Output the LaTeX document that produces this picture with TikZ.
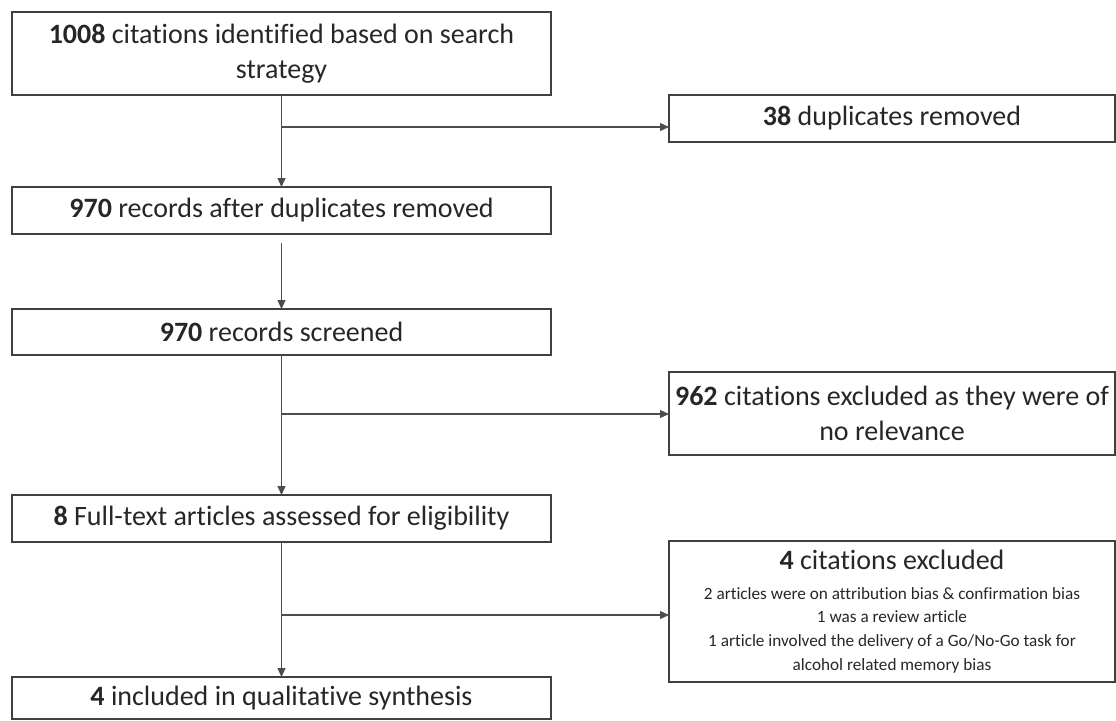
\documentclass[tikz,border=0pt]{standalone}
\usepackage{fontspec}
\setmainfont{Carlito}[Ligatures=NoCommon]
\usepackage{tikz}
\usetikzlibrary{arrows.meta, positioning}
\usepackage{xcolor}

\newcommand{\mainsize}{\fontsize{14}{17.5}\selectfont}
\newcommand{\notesize}{\fontsize{8.6}{11.8}\selectfont}

\begin{document}
\begin{tikzpicture}[x=0.5pt, y=-0.5pt, >={Triangle[length=4.5pt, width=4pt]}]
	\tikzstyle{stagebox} = [draw=black!75, line width=0.75pt, rectangle, inner sep=0pt, outer sep=0pt, text=black!85, font=\mainsize, align=center, minimum width=269.5pt]
	\tikzstyle{dropbox} = [stagebox, minimum width=223pt]
	\tikzstyle{link} = [draw=black!70, line width=0.6pt]
	
	\useasboundingbox (0,0) rectangle (1116,720);
	
	\node[stagebox, minimum height=41.5pt]	at (281.5, 53.5)	(s0)	{\textbf{1008} citations identified based on search\\strategy};
	\node[dropbox, minimum height=23.5pt]	at (892, 118.5)		(s1)	{\textbf{38} duplicates removed};
	\node[stagebox, minimum height=23.5pt]	at (281.5, 210.5)	(s2)	{\textbf{970} records after duplicates removed};
	\node[stagebox, minimum height=23pt]	at (281.5, 332)		(s3)	{\textbf{970} records screened};
	\node[dropbox, minimum height=41.5pt]	at (892, 413.5)		(s4)	{\textbf{962} citations excluded as they were of\\no relevance};
	\node[stagebox, minimum height=23.5pt]	at (281.5, 518.5)	(s5)	{\textbf{8} Full-text articles assessed for eligibility};
	\node[dropbox, minimum height=70.5pt, font=\notesize]	at (892, 611.5)	(s6)	{{\mainsize\textbf{4} citations excluded}\\[3pt]
		2 articles were on attribution bias \& confirmation bias\\
		1 was a review article\\
		1 article involved the delivery of a Go/No-Go task for\\
		alcohol related memory bias};
	\node[stagebox, minimum height=21pt]	at (281.5, 698)		(s7)	{\textbf{4} included in qualitative synthesis};
	
	% junctions on the main line
	\coordinate (j0) at (281.5, 127);
	\coordinate (j1) at (281.5, 414);
	\coordinate (j2) at (281.5, 615);
	
	\draw[link, ->] (s0) -- (s2);
	\draw[link, ->] (j0) -- (j0 -| s1.west);
	\draw[link, ->] ([yshift=-4.5pt]s2.south) -- (s3);
	\draw[link, ->] (s3) -- (s5);
	\draw[link, ->] (j1) -- (j1 -| s4.west);
	\draw[link, ->] (s5) -- (s7);
	\draw[link, ->] (j2) -- (j2 -| s6.west);
\end{tikzpicture}
\end{document}
